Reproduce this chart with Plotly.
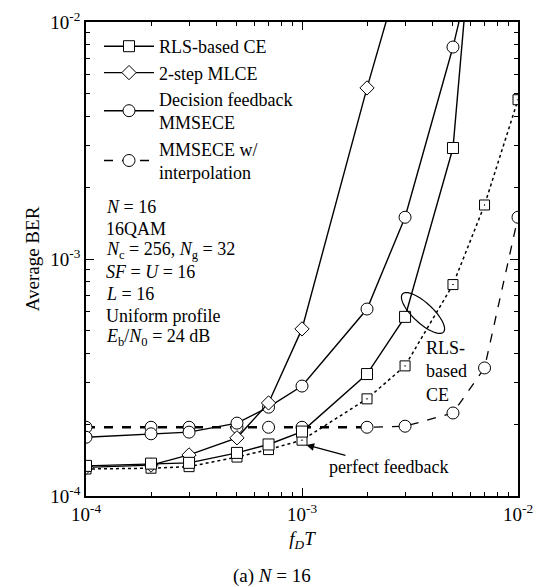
import numpy as np
import plotly.graph_objects as go

# ---------------- data ----------------
fdT_all = [1e-4, 2e-4, 3e-4, 5e-4, 7e-4, 1e-3, 2e-3, 3e-3, 5e-3, 7e-3, 1e-2]

rls_x = [1e-4, 2e-4, 3e-4, 5e-4, 7e-4, 1e-3, 2e-3, 3e-3, 5e-3, 7e-3]
rls_ber = [1.34e-4, 1.37e-4, 1.38e-4, 1.52e-4, 1.65e-4, 1.87e-4, 3.27e-4, 5.7e-4, 2.94e-3, 1.0e-1]

rls_pf_x = fdT_all
rls_pf_ber = [1.30e-4, 1.31e-4, 1.33e-4, 1.46e-4, 1.57e-4, 1.72e-4, 2.57e-4, 3.54e-4, 7.8e-4, 1.69e-3, 4.7e-3]

mlce_x = [1e-4, 2e-4, 3e-4, 5e-4, 7e-4, 1e-3, 2e-3, 3e-3]
mlce_ber = [1.32e-4, 1.35e-4, 1.49e-4, 1.76e-4, 2.47e-4, 5.07e-4, 5.27e-3, 1.9e-2]

df_x = [1e-4, 2e-4, 3e-4, 5e-4, 7e-4, 1e-3, 2e-3, 3e-3, 5e-3, 7e-3]
df_ber = [1.77e-4, 1.83e-4, 1.86e-4, 2.03e-4, 2.37e-4, 2.91e-4, 6.15e-4, 1.5e-3, 7.84e-3, 2.86e-2]

interp_x = fdT_all
interp_ber = [1.95e-4, 1.95e-4, 1.95e-4, 1.95e-4, 1.95e-4, 1.95e-4, 1.95e-4, 1.97e-4, 2.24e-4, 3.47e-4, 1.5e-3]

df_pf_x = [1e-4, 2e-4, 3e-4, 5e-4, 7e-4, 1e-3, 2e-3]
df_pf_ber = [1.95e-4, 1.95e-4, 1.95e-4, 1.95e-4, 1.95e-4, 1.95e-4, 1.95e-4]

major_vals = [1e-4, 1e-3, 1e-2]
major_text = ["10<sup>-4</sup>", "10<sup>-3</sup>", "10<sup>-2</sup>"]
minor_vals = [m * d for d in [1e-4, 1e-3] for m in range(2, 10)]

info_lines = [
    "<i>N</i> = 16",
    "16QAM",
    "<i>N</i><sub>c</sub> = 256, <i>N</i><sub>g</sub> = 32",
    "<i>SF</i> = <i>U</i> = 16",
    "<i>L</i> = 16",
    "Uniform profile",
    "<i>E</i><sub>b</sub>/<i>N</i><sub>0</sub> = 24 dB",
]

FONT = "Liberation Serif"
W, H = 539, 587
# plot area in page pixels: x 86..518, y 22..496
L, T = 86, 22
R, B = W - 518, H - 496
PW, PH = W - L - R, H - T - B


def pxx(px):  # page pixel -> paper x
    return (px - L) / PW


def pxy(py):  # page pixel -> paper y
    return (T + PH - py) / PH


fig = go.Figure()

mk = dict(color="white", line=dict(color="black", width=1))

fig.add_trace(go.Scatter(x=df_pf_x, y=df_pf_ber, mode="lines", showlegend=False,
                         line=dict(color="black", width=2.4, dash="dash")))
fig.add_trace(go.Scatter(x=rls_pf_x, y=rls_pf_ber, mode="lines+markers", showlegend=False,
                         line=dict(color="black", width=1.5, dash="dot"),
                         marker=dict(symbol="square-dot", size=10, **mk)))
fig.add_trace(go.Scatter(x=interp_x, y=interp_ber, mode="lines+markers",
                         name="MMSECE w/<br>interpolation",
                         line=dict(color="black", width=1.3, dash="dash"),
                         marker=dict(symbol="circle", size=12, **mk)))
fig.add_trace(go.Scatter(x=df_x, y=df_ber, mode="lines+markers",
                         name="Decision feedback<br>MMSECE",
                         line=dict(color="black", width=1.4),
                         marker=dict(symbol="circle", size=12, **mk)))
fig.add_trace(go.Scatter(x=mlce_x, y=mlce_ber, mode="lines+markers", name="2-step MLCE",
                         line=dict(color="black", width=1.4),
                         marker=dict(symbol="diamond", size=11, **mk)))
fig.add_trace(go.Scatter(x=rls_x, y=rls_ber, mode="lines+markers", name="RLS-based CE",
                         line=dict(color="black", width=1.4),
                         marker=dict(symbol="square", size=11, **mk)))

axis_common = dict(
    type="log", range=[-4, -2], showgrid=False, zeroline=False, automargin=False,
    showline=True, linecolor="black", linewidth=1.5, mirror="ticks",
    ticks="inside", ticklen=8, tickwidth=1, tickcolor="black",
    tickvals=major_vals, ticktext=major_text,
    tickfont=dict(family=FONT, size=19, color="black"),
    minor=dict(tickvals=minor_vals, ticks="inside", ticklen=4, tickwidth=1,
               tickcolor="black", showgrid=False),
)

fig.update_xaxes(**axis_common,
                 title=dict(text="<i>f</i><sub><i>D</i></sub><i>T</i>",
                            font=dict(family=FONT, size=19, color="black"), standoff=8))
fig.update_yaxes(**axis_common,
                 title=dict(text="Average BER",
                            font=dict(family=FONT, size=19, color="black"), standoff=6))

annotations = []
for i, t in enumerate(info_lines):
    annotations.append(dict(xref="paper", yref="paper", x=pxx(104), y=pxy(207 + i * 21.8),
                            text=t, showarrow=False, xanchor="left", yanchor="middle",
                            font=dict(family=FONT, size=18, color="black")))

annotations.append(dict(xref="paper", yref="paper", x=pxx(424), y=pxy(371),
                        text="RLS-<br>based<br>CE", showarrow=False, align="left",
                        xanchor="left", yanchor="middle",
                        font=dict(family=FONT, size=18, color="black")))

annotations.append(dict(xref="x", yref="y", x=np.log10(rls_pf_x[5]) + 0.02,
                        y=np.log10(rls_pf_ber[5]) - 0.02,
                        text="perfect feedback", showarrow=True, arrowhead=2,
                        arrowsize=1.2, arrowwidth=1.3, arrowcolor="black",
                        ax=82, ay=22, xanchor="center", yanchor="middle",
                        font=dict(family=FONT, size=18, color="black")))

annotations.append(dict(xref="paper", yref="paper", x=pxx(272), y=pxy(576),
                        text="(a) <i>N</i> = 16", showarrow=False,
                        xanchor="center", yanchor="middle",
                        font=dict(family=FONT, size=19, color="black")))

# ellipse marking the RLS-based CE curves
cx, cy, a, b, ang = 423, 313, 28, 10, np.deg2rad(43)
tt = np.linspace(0, 2 * np.pi, 60)
ex = cx + a * np.cos(tt) * np.cos(ang) - b * np.sin(tt) * np.sin(ang)
ey = cy + a * np.cos(tt) * np.sin(ang) + b * np.sin(tt) * np.cos(ang)
path = "M " + " L ".join(f"{pxx(u):.5f},{pxy(v):.5f}" for u, v in zip(ex, ey)) + " Z"
shapes = [dict(type="path", xref="paper", yref="paper", path=path,
               line=dict(color="black", width=1.2))]

fig.update_layout(
    width=W, height=H,
    margin=dict(l=L, r=R, t=T, b=B, autoexpand=False),
    plot_bgcolor="white", paper_bgcolor="white",
    font=dict(family=FONT, size=18, color="black"),
    showlegend=True,
    legend=dict(x=pxx(99), y=pxy(28), xanchor="left", yanchor="top",
                traceorder="reversed", bgcolor="rgba(0,0,0,0)",
                font=dict(family=FONT, size=18, color="black"),
                itemwidth=50, tracegroupgap=0),
    annotations=annotations,
    shapes=shapes,
)

fig.write_html("out.html",
               config={"displayModeBar": False},
               post_script="document.body.style.margin='0';"
                           "document.body.style.overflow='hidden';")
